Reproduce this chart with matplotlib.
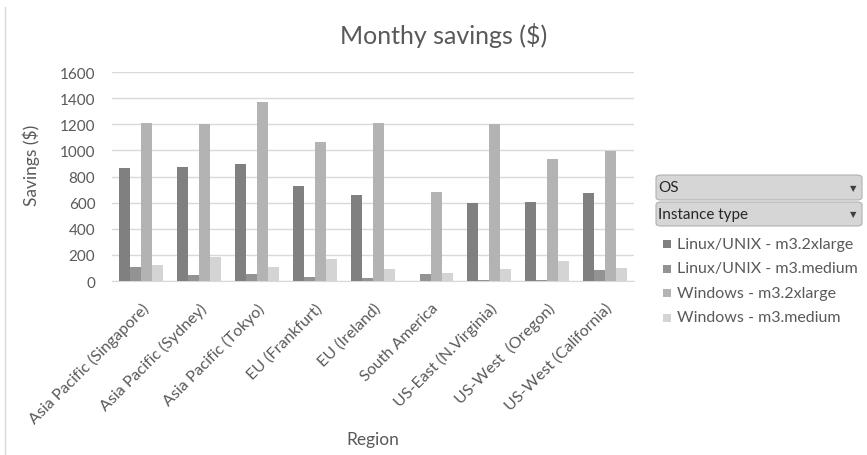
import matplotlib
matplotlib.use("Agg")
import matplotlib.pyplot as plt
import numpy as np
from matplotlib.patches import FancyBboxPatch, Rectangle
from matplotlib.lines import Line2D

plt.rcParams['font.family'] = ['Lato', 'DejaVu Sans']

regions = ["Asia Pacific (Singapore)", "Asia Pacific (Sydney)", "Asia Pacific (Tokyo)",
           "EU (Frankfurt)", "EU (Ireland)", "South America", "US-East (N.Virginia)",
           "US-West  (Oregon)", "US-West (California)"]
series_names = ["Linux/UNIX - m3.2xlarge", "Linux/UNIX - m3.medium",
                "Windows - m3.2xlarge", "Windows - m3.medium"]
linux_2xl = [862, 870, 898, 726, 659, 0, 597, 602, 674]
linux_med = [110, 46, 51, 33, 23, 51, 10, 10, 82]
win_2xl = [1210, 1200, 1369, 1066, 1210, 682, 1202, 937, 994]
win_med = [121, 182, 110, 167, 90, 59, 90, 154, 98]
yticks = [0, 200, 400, 600, 800, 1000, 1200, 1400, 1600]
colors = ["#808080", "#939393", "#b3b3b3", "#d4d4d4"]

data = [linux_2xl, linux_med, win_2xl, win_med]

W, H = 867, 456
fig = plt.figure(figsize=(W/100, H/100), dpi=100)
L, R, T, B = 112, 634, 73, 282
ax = fig.add_axes([L/W, 1-B/H, (R-L)/W, (B-T)/H])

x = np.arange(len(regions))
w = 0.19
for i, (vals, c) in enumerate(zip(data, colors)):
    ax.bar(x + (i - 1.5) * w, vals, width=w, color=c, zorder=3)

ax.set_ylim(0, 1600)
ax.set_xlim(-0.5, len(regions) - 0.5)
ax.set_yticks(yticks)
ax.set_yticklabels([str(v) for v in yticks], fontsize=11, color="#595959")
ax.yaxis.grid(True, color="#d9d9d9", linewidth=1, zorder=0)
ax.set_axisbelow(True)
ax.tick_params(axis='y', length=0, pad=12)
ax.tick_params(axis='x', length=0, pad=14)
ax.set_xticks(x)
ax.set_xticklabels(regions, rotation=45, ha='right', rotation_mode='anchor',
                   fontsize=11.5, color="#595959")
for s in ['top', 'right', 'left']:
    ax.spines[s].set_visible(False)
ax.spines['bottom'].set_color("#d9d9d9")

ax.set_ylabel("Savings ($)", fontsize=12.5, color="#595959")
ax.yaxis.set_label_coords((40 - L) / (R - L), (B - 165) / (B - T))
fig.text(373/W, 1-440/H, "Region", fontsize=12.5, color="#595959", ha='center', va='center')
fig.text(444/W, 1-35/H, "Monthy savings ($)", fontsize=18, color="#595959", ha='center', va='center')

# frame line on left
fig.add_artist(Line2D([5/W, 5/W], [0, 1-8/H], transform=fig.transFigure,
                      color="#d9d9d9", linewidth=1))

# dropdown filter boxes
for label, ytop, h in [("OS", 176, 25), ("Instance type", 203, 24)]:
    box = FancyBboxPatch((656/W, 1-(ytop+h)/H), (862-656)/W, h/H,
                         boxstyle="round,pad=0,rounding_size=0.006",
                         transform=fig.transFigure, facecolor="#d6d6d6",
                         edgecolor="#b0b0b0", linewidth=0.8)
    fig.add_artist(box)
    fig.text(658/W, 1-(ytop+h/2)/H, label, fontsize=11, color="#262626",
             ha='left', va='center')
    fig.text(853/W, 1-(ytop+h/2)/H, "\u25BC", fontsize=6, color="#404040",
             ha='center', va='center', family=['DejaVu Sans'])

# legend entries
for i, (name, c) in enumerate(zip(series_names, colors)):
    yc = 245 + i * 24.5
    fig.add_artist(Rectangle((663/W, 1-(yc+4)/H), 8/W, 8/H,
                             transform=fig.transFigure, facecolor=c, edgecolor='none'))
    fig.text(677/W, 1-yc/H, name, fontsize=11.5, color="#595959", ha='left', va='center')

fig.savefig("out.png", dpi=100)
